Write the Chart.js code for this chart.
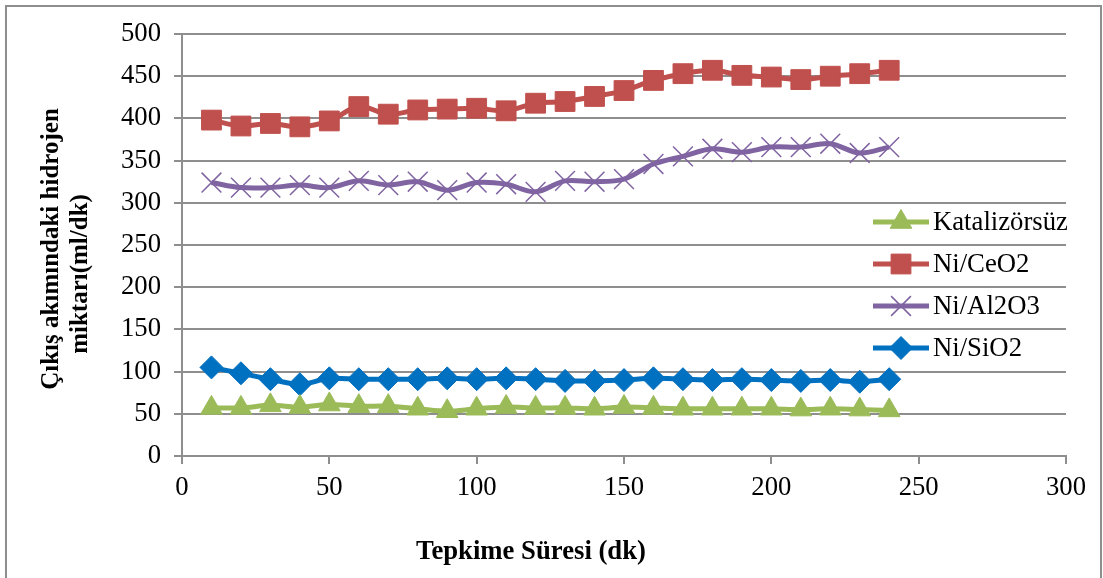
<!DOCTYPE html>
<html>
<head>
<meta charset="utf-8">
<script src="https://cdn.jsdelivr.net/npm/chart.js@4/dist/chart.umd.min.js"></script>
<style>
  html, body { margin: 0; padding: 0; background: #fff; }
  #wrap { width: 1103px; height: 578px; position: relative; }
</style>
</head>
<body>
<div id="wrap"><canvas id="h2Chart" width="1103" height="578"></canvas></div>
<script>
// reaction time (dk)
const minutes = [10, 20, 30, 40, 50, 60, 70, 80, 90, 100, 110, 120,
                 130, 140, 150, 160, 170, 180, 190, 200, 210, 220, 230, 240];

// hydrogen in outlet stream (ml/dk)
const katalizorsuz = [57, 57, 60, 58, 61, 59, 59, 56, 53, 56, 58, 57,
                      57, 56, 58, 57, 56, 56, 56, 56, 55, 56, 55, 54];
const niCeO2 = [398, 391, 394, 390, 397, 414, 405, 410, 411, 412, 409, 418,
                420, 426, 433, 445, 453, 457, 451, 449, 446, 450, 453, 457];
const niAl2O3 = [324, 318, 318, 321, 318, 326, 321, 325, 315, 324, 322, 313,
                 326, 325, 328, 346, 355, 364, 360, 366, 366, 370, 359, 366];
const niSiO2 = [105, 98, 91, 85, 92, 91, 91, 91, 92, 91, 92, 91,
                89, 89, 90, 92, 91, 90, 91, 90, 89, 90, 88, 91];

const seriesNames = ["Katalizörsüz", "Ni/CeO2", "Ni/Al2O3", "Ni/SiO2"];
const yTicks = [0, 50, 100, 150, 200, 250, 300, 350, 400, 450, 500];
const xTicks = [0, 50, 100, 150, 200, 250, 300];

const FONT = "'Liberation Serif', 'Times New Roman', serif";
const FONT_SIZE = 26.7;
const GRID = "#8e8e8e";

function toPoints(vals) {
  return vals.map((v, i) => ({ x: minutes[i], y: v }));
}

function series(label, vals, color, style, radius, bw) {
  return {
    label: label,
    data: toPoints(vals),
    borderColor: color,
    backgroundColor: color,
    borderWidth: 5,
    tension: 0.35,
    pointStyle: style,
    pointRadius: radius,
    pointHoverRadius: radius,
    pointBorderWidth: bw,
    pointBackgroundColor: color,
    pointBorderColor: color
  };
}

const datasets = [
  series(seriesNames[0], katalizorsuz, "#9bbb59", "triangle", 12.5, 1),
  series(seriesNames[1], niCeO2, "#c0504d", "rect", 14, 1),
  series(seriesNames[2], niAl2O3, "#8064a2", "crossRot", 14, 1.5),
  series(seriesNames[3], niSiO2, "#0070c0", "rectRot", 11.5, 1)
];

// frame, axis titles and the legend inside the plot
const decorations = {
  id: "decorations",
  afterDraw(chart) {
    const ctx = chart.ctx;
    ctx.save();

    ctx.strokeStyle = GRID;
    ctx.lineWidth = 2;
    ctx.beginPath();
    ctx.moveTo(6, 578);
    ctx.lineTo(6, 6);
    ctx.lineTo(1101, 6);
    ctx.lineTo(1101, 578);
    ctx.stroke();

    ctx.fillStyle = "#000";
    ctx.font = "bold " + FONT_SIZE + "px " + FONT;
    ctx.textAlign = "center";
    ctx.textBaseline = "middle";
    ctx.fillText("Tepkime Süresi (dk)", 531, 552);

    ctx.font = "bold 25px " + FONT;
    ctx.save();
    ctx.translate(52, 249);
    ctx.rotate(-Math.PI / 2);
    ctx.fillText("Çıkış akımındaki hidrojen", 0, 0);
    ctx.restore();
    ctx.save();
    ctx.translate(81, 274);
    ctx.rotate(-Math.PI / 2);
    ctx.fillText("miktarı(ml/dk)", 0, 0);
    ctx.restore();

    chart.data.datasets.forEach((ds, i) => {
      const y = 222 + i * 42;
      ctx.strokeStyle = ds.borderColor;
      ctx.lineWidth = 5;
      ctx.beginPath();
      ctx.moveTo(873, y);
      ctx.lineTo(929, y);
      ctx.stroke();
      ctx.fillStyle = ds.pointBackgroundColor;
      ctx.strokeStyle = ds.pointBorderColor;
      ctx.lineWidth = ds.pointBorderWidth;
      Chart.helpers.drawPoint(ctx, {
        pointStyle: ds.pointStyle,
        radius: ds.pointRadius,
        rotation: 0,
        borderWidth: ds.pointBorderWidth
      }, 901, y);
      ctx.fillStyle = "#000";
      ctx.font = FONT_SIZE + "px " + FONT;
      ctx.textAlign = "left";
      ctx.fillText(ds.label, 933, y + 1);
    });

    ctx.restore();
  }
};

new Chart(document.getElementById("h2Chart"), {
  type: "line",
  data: { datasets: datasets },
  plugins: [decorations],
  options: {
    responsive: false,
    animation: false,
    layout: { padding: { left: 0, right: 37, top: 34, bottom: 0 } },
    plugins: { legend: { display: false }, tooltip: { enabled: false } },
    scales: {
      x: {
        type: "linear",
        min: 0,
        max: 300,
        afterFit(s) { s.height = 122; },
        afterBuildTicks(s) { s.ticks = xTicks.map(v => ({ value: v })); },
        grid: { drawOnChartArea: false, drawTicks: true, tickLength: 8, color: GRID, lineWidth: 2 },
        border: { color: GRID, width: 2 },
        ticks: { color: "#000", padding: 8, maxRotation: 0, font: { family: FONT, size: FONT_SIZE } }
      },
      y: {
        min: 0,
        max: 500,
        afterFit(s) { s.width = 182; },
        afterBuildTicks(s) { s.ticks = yTicks.map(v => ({ value: v })); },
        grid: { drawTicks: true, tickLength: 8, color: GRID, lineWidth: 2 },
        border: { color: GRID, width: 2 },
        ticks: { color: "#000", padding: 13, font: { family: FONT, size: FONT_SIZE } }
      }
    }
  }
});
</script>
</body>
</html>
